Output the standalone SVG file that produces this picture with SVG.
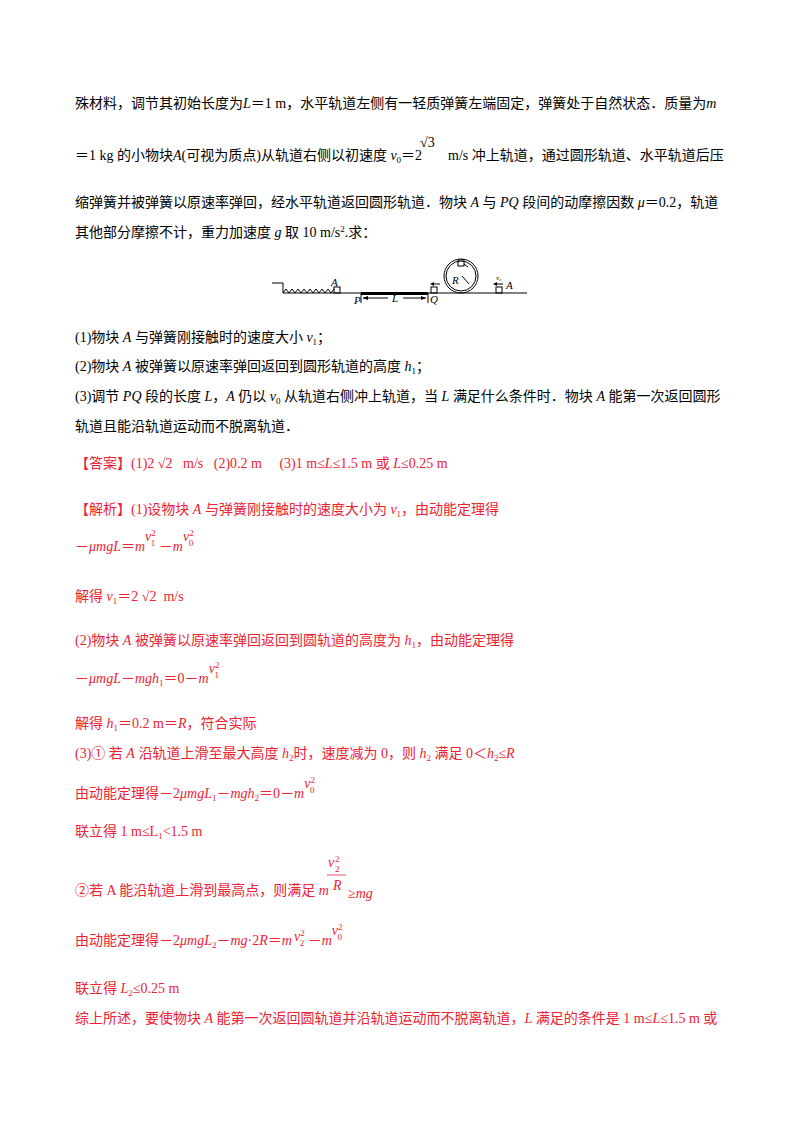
<svg xmlns="http://www.w3.org/2000/svg" width="800" height="1132" viewBox="0 0 800 1132">
<style>
text{font-family:"Liberation Serif","Noto Sans CJK SC",serif;font-size:14px;fill:#000}
.r{fill:#ee2233}
.i{font-style:italic}
.s{font-size:9px}
.f{font-size:11px}
.ln{stroke:#000;stroke-width:1;fill:none}
</style>
<rect width="800" height="1132" fill="#fff"/>
<text x="75" y="108">殊材料，调节其初始长度为<tspan class="i">L</tspan>＝1 m，水平轨道左侧有一轻质弹簧左端固定，弹簧处于自然状态．质量为<tspan class="i">m</tspan></text>
<text x="75" y="160">＝1 kg 的小物块<tspan class="i">A</tspan>(可视为质点)从轨道右侧以初速度 <tspan class="i">v</tspan><tspan class="s" dy="3">0</tspan><tspan dy="-3">＝2</tspan></text>
<text x="420" y="147">√3</text>
<text x="448" y="160">m/s 冲上轨道，通过圆形轨道、水平轨道后压</text>
<text x="75" y="207">缩弹簧并被弹簧以原速率弹回，经水平轨道返回圆形轨道．物块 <tspan class="i">A</tspan> 与 <tspan class="i">PQ</tspan> 段间的动摩擦因数 <tspan class="i">μ</tspan>＝0.2，轨道</text>
<text x="75" y="237">其他部分摩擦不计，重力加速度 <tspan class="i">g</tspan> 取 10 m/s<tspan class="s" dy="-5">2</tspan><tspan dy="5">.求：</tspan></text>
<g id="figure">
<path class="ln" d="M272 283H283V293H527"/>
<path class="ln" d="M283 293 L286 289 L289 293 L292 289 L295 293 L298 289 L301 293 L304 289 L307 293 L310 289 L313 293 L316 289 L319 293 L322 289 L325 293 L328 289 L331 293 L334 289"/>
<rect x="334" y="287" width="6" height="6" class="ln"/>
<text x="331" y="286" class="f i">A</text>
<rect x="361" y="292" width="67" height="3" fill="#000"/>
<path class="ln" d="M361 293V303M428 293V303"/>
<text x="354" y="304" class="f i">P</text>
<text x="430" y="303" class="f i">Q</text>
<path class="ln" d="M363 298H388M403 298H426"/>
<path d="M363 298l5-2v4zM426 298l-5-2v4z"/>
<text x="392" y="302" class="f i">L</text>
<rect x="431" y="287" width="6" height="6" class="ln"/>
<path class="ln" d="M432 284H440"/><path d="M430 284l4-2v4z"/>
<circle cx="461" cy="276" r="17" class="ln"/>
<circle cx="461" cy="276" r="15" class="ln"/>
<rect x="458" y="260" width="6" height="6" class="ln"/>
<path class="ln" d="M464 264l4 3M462 276l7 8"/>
<text x="452" y="284" class="f i">R</text>
<rect x="496" y="287" width="6" height="6" class="ln"/>
<path class="ln" d="M495 284H503"/><path d="M493 284l4-2v4z"/>
<text x="496" y="280" style="font-size:7px" class="i">v₀</text>
<text x="506" y="289" class="f i">A</text>
</g>
<text x="75" y="342">(1)物块 <tspan class="i">A</tspan> 与弹簧刚接触时的速度大小 <tspan class="i">v</tspan><tspan class="s" dy="3">1</tspan><tspan dy="-3">；</tspan></text>
<text x="75" y="371">(2)物块 <tspan class="i">A</tspan> 被弹簧以原速率弹回返回到圆形轨道的高度 <tspan class="i">h</tspan><tspan class="s" dy="3">1</tspan><tspan dy="-3">；</tspan></text>
<text x="75" y="401">(3)调节 <tspan class="i">PQ</tspan> 段的长度 <tspan class="i">L</tspan>，<tspan class="i">A</tspan> 仍以 <tspan class="i">v</tspan><tspan class="s" dy="3">0</tspan><tspan dy="-3"> 从轨道右侧冲上轨道，当 </tspan><tspan class="i">L</tspan> 满足什么条件时．物块 <tspan class="i">A</tspan> 能第一次返回圆形</text>
<text x="75" y="431">轨道且能沿轨道运动而不脱离轨道．</text>
<text x="75" y="468" class="r" xml:space="preserve">【答案】(1)2 √2   m/s   (2)0.2 m     (3)1 m≤<tspan class="i">L</tspan>≤1.5 m 或 <tspan class="i">L</tspan>≤0.25 m</text>
<text x="75" y="514" class="r">【解析】(1)设物块 <tspan class="i">A</tspan> 与弹簧刚接触时的速度大小为 <tspan class="i">v</tspan><tspan class="s" dy="3">1</tspan><tspan dy="-3">，由动能定理得</tspan></text>
<text x="75" y="551" class="r">－<tspan class="i">μmgL</tspan>＝<tspan class="i">m</tspan><tspan class="i" dy="-10">v</tspan><tspan class="s" dy="-5">2</tspan><tspan class="s" dx="-5" dy="10">1</tspan><tspan dy="5"> －</tspan><tspan class="i">m</tspan><tspan class="i" dy="-10">v</tspan><tspan class="s" dy="-5">2</tspan><tspan class="s" dx="-5" dy="10">0</tspan></text>
<text x="75" y="601" class="r" xml:space="preserve">解得 <tspan class="i">v</tspan><tspan class="s" dy="3">1</tspan><tspan dy="-3">＝2 √2  m/s</tspan></text>
<text x="75" y="645" class="r">(2)物块 <tspan class="i">A</tspan> 被弹簧以原速率弹回返回到圆轨道的高度为 <tspan class="i">h</tspan><tspan class="s" dy="3">1</tspan><tspan dy="-3">，由动能定理得</tspan></text>
<text x="75" y="683" class="r">－<tspan class="i">μmgL</tspan>－<tspan class="i">mgh</tspan><tspan class="s" dy="3">1</tspan><tspan dy="-3">＝0－</tspan><tspan class="i">m</tspan><tspan class="i" dy="-10">v</tspan><tspan class="s" dy="-5">2</tspan><tspan class="s" dx="-5" dy="10">1</tspan></text>
<text x="75" y="728" class="r">解得 <tspan class="i">h</tspan><tspan class="s" dy="3">1</tspan><tspan dy="-3">＝0.2 m＝</tspan><tspan class="i">R</tspan>，符合实际</text>
<text x="75" y="758" class="r">(3)① 若 <tspan class="i">A</tspan> 沿轨道上滑至最大高度 <tspan class="i">h</tspan><tspan class="s" dy="3">2</tspan><tspan dy="-3">时，速度减为 0，则 </tspan><tspan class="i">h</tspan><tspan class="s" dy="3">2</tspan><tspan dy="-3"> 满足 0＜</tspan><tspan class="i">h</tspan><tspan class="s" dy="3">2</tspan><tspan dy="-3">≤</tspan><tspan class="i">R</tspan></text>
<text x="75" y="798" class="r">由动能定理得－2<tspan class="i">μmgL</tspan><tspan class="s" dy="3">1</tspan><tspan dy="-3">－</tspan><tspan class="i">mgh</tspan><tspan class="s" dy="3">2</tspan><tspan dy="-3">＝0－</tspan><tspan class="i">m</tspan><tspan class="i" dy="-10">v</tspan><tspan class="s" dy="-5">2</tspan><tspan class="s" dx="-5" dy="10">0</tspan></text>
<text x="75" y="836" class="r">联立得 1 m≤L<tspan class="s" dy="3">1</tspan><tspan dy="-3">&lt;1.5 m</tspan></text>
<text x="328" y="867" class="r i">v</text><text x="335" y="862" class="r s">2</text><text x="335" y="872" class="r s">2</text>
<line x1="327" y1="875" x2="346" y2="875" stroke="#ee2233" stroke-width="0.8"/>
<text x="333" y="890" class="r i">R</text>
<text x="75" y="895" class="r">②若 A 能沿轨道上滑到最高点，则满足 <tspan class="i">m</tspan></text>
<text x="348" y="898" class="r">≥<tspan class="i">mg</tspan></text>
<text x="75" y="945" class="r">由动能定理得－2<tspan class="i">μmgL</tspan><tspan class="s" dy="3">2</tspan><tspan dy="-3">－</tspan><tspan class="i">mg</tspan>·2<tspan class="i">R</tspan>＝<tspan class="i">m</tspan><tspan class="i" dx="2" dy="-4">v</tspan><tspan class="s" dy="-5">2</tspan><tspan class="s" dx="-5" dy="10">2</tspan><tspan dy="-1"> －</tspan><tspan class="i">m</tspan><tspan class="i" dy="-10">v</tspan><tspan class="s" dy="-5">2</tspan><tspan class="s" dx="-5" dy="10">0</tspan></text>
<text x="75" y="993" class="r">联立得 <tspan class="i">L</tspan><tspan class="s" dy="3">2</tspan><tspan dy="-3">≤0.25 m</tspan></text>
<text x="75" y="1023" class="r">综上所述，要使物块 <tspan class="i">A</tspan> 能第一次返回圆轨道并沿轨道运动而不脱离轨道，<tspan class="i">L</tspan> 满足的条件是 1 m≤<tspan class="i">L</tspan>≤1.5 m 或</text>
</svg>
